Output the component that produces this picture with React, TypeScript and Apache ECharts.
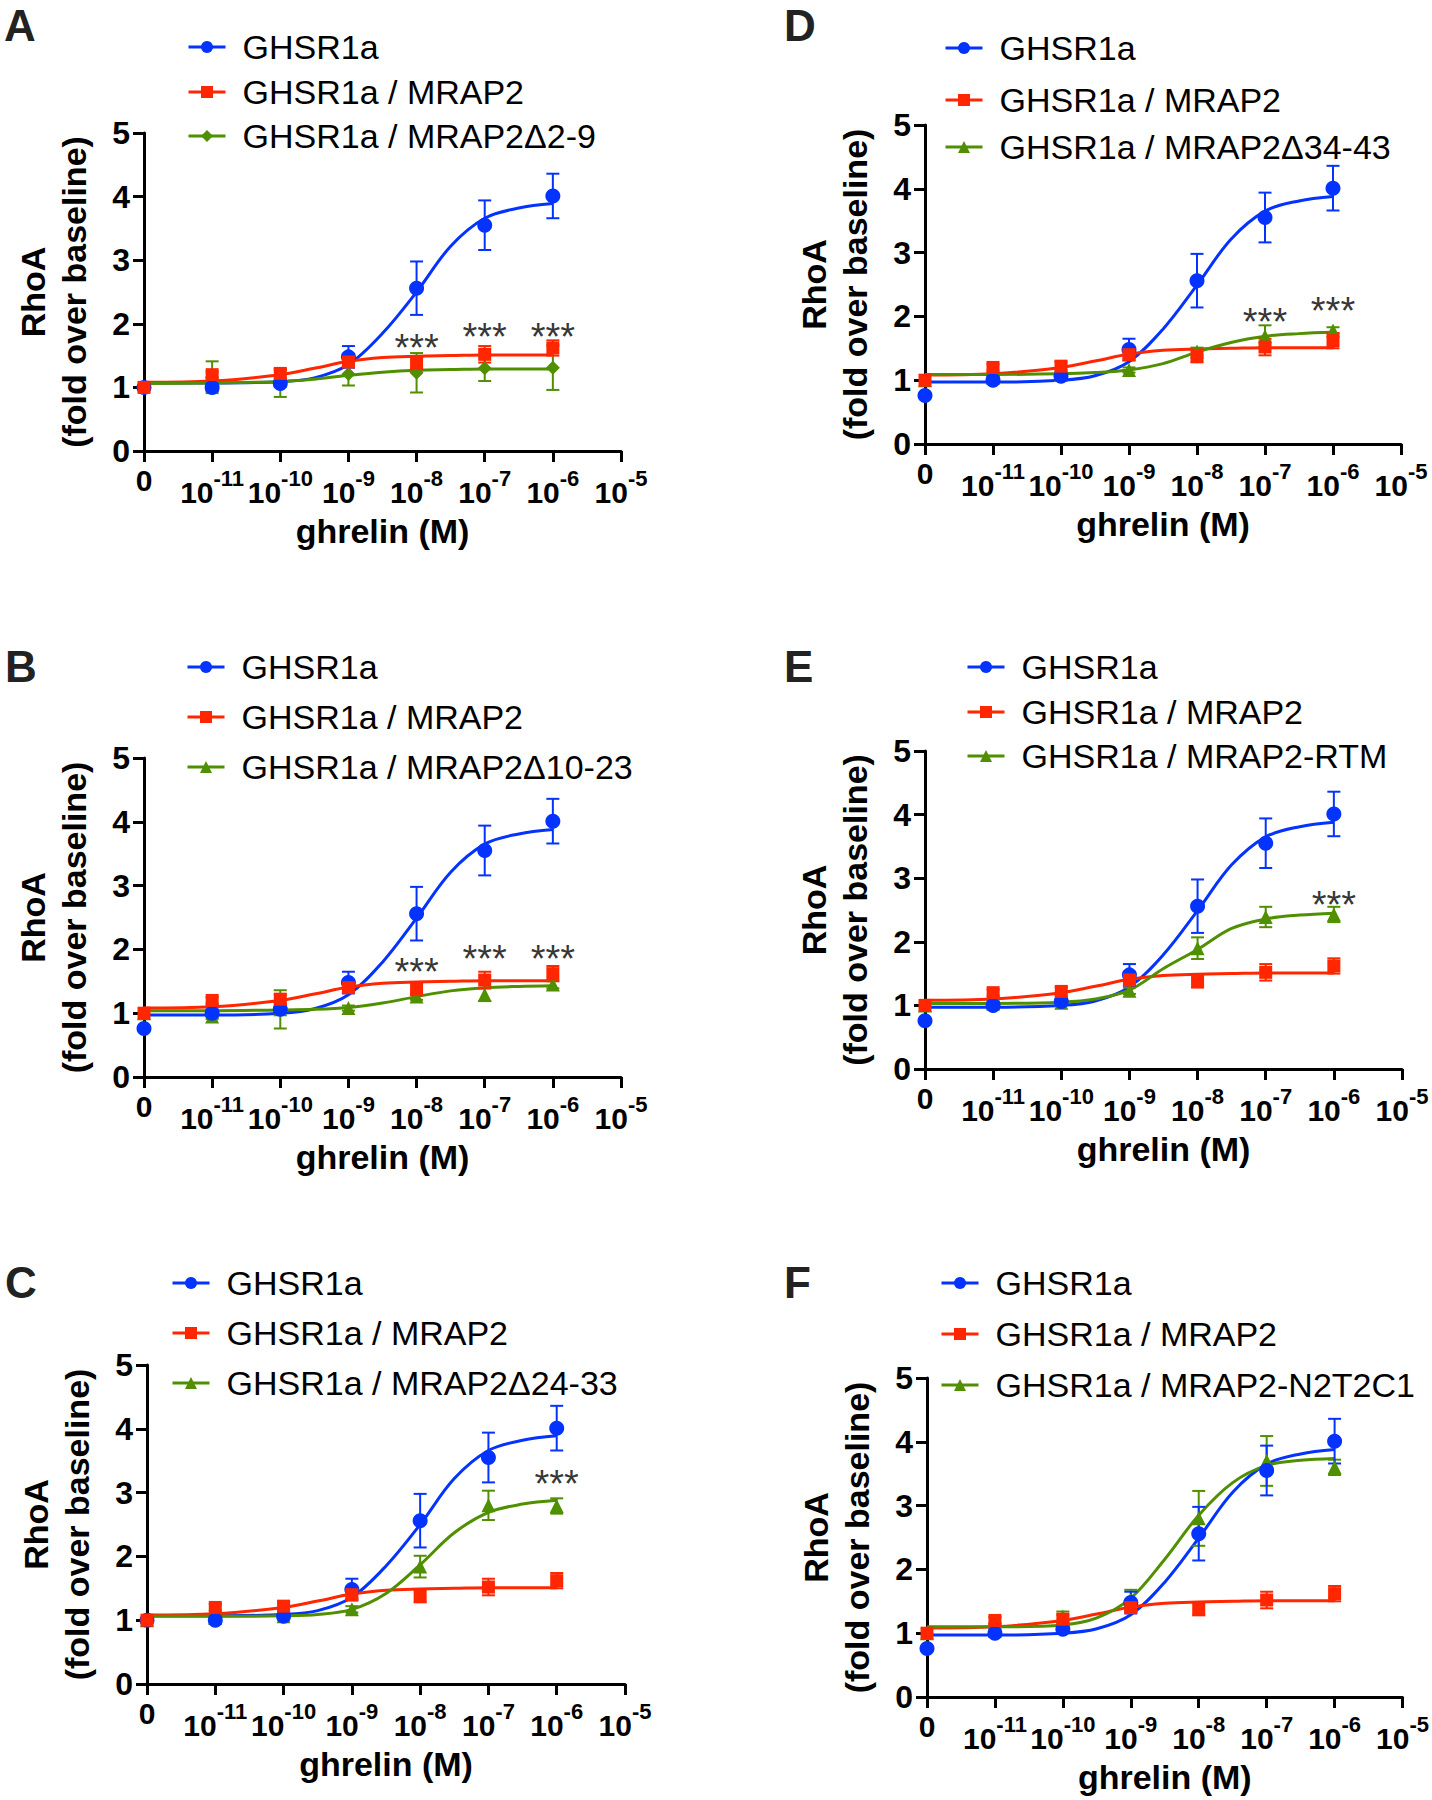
import React, { useEffect, useRef } from 'react';
import * as echarts from 'echarts';

// ---------- DATA ----------
// x positions: 0 = "0", 1 = 10^-11 ... 7 = 10^-5
const X_TICK_EXP = ['', '-11', '-10', '-9', '-8', '-7', '-6', '-5'];
const DOSES = [0, 1, 2, 3, 4, 5, 6];
const CURVE_X = [0, 1, 2, 2.5, 3, 3.5, 4, 4.5, 5, 5.5, 6];

const BLUE_NAME = 'GHSR1a';
const RED_NAME = 'GHSR1a / MRAP2';
const GREEN_NAMES = [
  'GHSR1a / MRAP2Δ2-9',
  'GHSR1a / MRAP2Δ10-23',
  'GHSR1a / MRAP2Δ24-33',
  'GHSR1a / MRAP2Δ34-43',
  'GHSR1a / MRAP2-RTM',
  'GHSR1a / MRAP2-N2T2C1',
];
const GREEN_SYMBOLS = ['diamond', 'triangle', 'triangle', 'triangle', 'triangle', 'triangle'];

// GHSR1a (same measurements in every panel)
const BLUE_PTS_AC = [1.0, 1.0, 1.06, 1.48, 2.56, 3.55, 4.01];
const BLUE_PTS = [0.76, 1.0, 1.06, 1.48, 2.56, 3.55, 4.01];
const BLUE_SEM = [0.03, 0.06, 0.05, 0.17, 0.42, 0.39, 0.35];
const BLUE_FIT_AC = [1.07, 1.07, 1.09, 1.15, 1.36, 1.85, 2.5, 3.22, 3.66, 3.82, 3.89];
const BLUE_FIT = [0.97, 0.97, 1.0, 1.07, 1.29, 1.8, 2.49, 3.21, 3.65, 3.81, 3.88];

// GHSR1a / MRAP2
const RED_PTS = [1.0, 1.2, 1.22, 1.4, 1.38, 1.52, 1.62];
const RED_SEM = [0, 0.05, 0.07, 0.06, 0.1, 0.13, 0.12];
const RED_FIT = [1.08, 1.1, 1.2, 1.3, 1.41, 1.47, 1.49, 1.5, 1.51, 1.51, 1.51];

// mutants
const GREEN_PTS_A = [1.0, 1.16, 1.06, 1.21, 1.23, 1.3, 1.31];
const GREEN_SEM_A = [0, 0.25, 0.21, 0.18, 0.31, 0.2, 0.35];
const GREEN_FIT_A = [1.06, 1.07, 1.09, 1.13, 1.19, 1.24, 1.27, 1.28, 1.29, 1.29, 1.29];

const GREEN_PTS_B = [1.0, 0.95, 1.06, 1.08, 1.26, 1.29, 1.45];
const GREEN_SEM_B = [0, 0.04, 0.3, 0.04, 0.05, 0.1, 0.06];
const GREEN_FIT_B = [1.04, 1.04, 1.05, 1.06, 1.09, 1.16, 1.26, 1.35, 1.4, 1.42, 1.43];

const GREEN_PTS_C = [1.0, 1.04, 1.06, 1.17, 1.84, 2.8, 2.79];
const GREEN_SEM_C = [0, 0.03, 0.03, 0.05, 0.17, 0.23, 0.12];
const GREEN_FIT_C = [1.06, 1.06, 1.07, 1.09, 1.17, 1.42, 1.87, 2.37, 2.69, 2.82, 2.88];

const GREEN_PTS_D = [1.0, 1.08, 1.08, 1.16, 1.45, 1.69, 1.78];
const GREEN_SEM_D = [0, 0.03, 0.04, 0.04, 0.06, 0.17, 0.05];
const GREEN_FIT_D = [1.09, 1.09, 1.1, 1.12, 1.16, 1.26, 1.44, 1.59, 1.69, 1.73, 1.75];

const GREEN_PTS_E = [1.0, 1.03, 1.04, 1.23, 1.9, 2.39, 2.43];
const GREEN_SEM_E = [0, 0.03, 0.04, 0.05, 0.17, 0.16, 0.12];
const GREEN_FIT_E = [1.03, 1.03, 1.05, 1.1, 1.24, 1.58, 1.88, 2.21, 2.36, 2.42, 2.45];

const GREEN_PTS_F = [1.0, 1.12, 1.26, 1.52, 2.8, 3.7, 3.6];
const GREEN_SEM_F = [0, 0.03, 0.08, 0.16, 0.43, 0.39, 0.12];
const GREEN_FIT_F = [1.1, 1.1, 1.13, 1.24, 1.55, 2.16, 2.85, 3.36, 3.63, 3.71, 3.74];

// significance marks [x, y]
const STARS_A = [[4, 1.76], [5, 1.93], [6, 1.93]];
const STARS_B = [[4, 1.79], [5, 1.99], [6, 1.99]];
const STARS_C = [[6, 3.27]];
const STARS_D = [[5, 2.05], [6, 2.22]];
const STARS_E = [[6, 2.72]];
const STARS_F: number[][] = [];

const PANEL_DATA = [
  { blue: BLUE_PTS_AC, blueFit: BLUE_FIT_AC, green: GREEN_PTS_A, greenSem: GREEN_SEM_A, greenFit: GREEN_FIT_A, stars: STARS_A },
  { blue: BLUE_PTS, blueFit: BLUE_FIT, green: GREEN_PTS_B, greenSem: GREEN_SEM_B, greenFit: GREEN_FIT_B, stars: STARS_B },
  { blue: BLUE_PTS_AC, blueFit: BLUE_FIT_AC, green: GREEN_PTS_C, greenSem: GREEN_SEM_C, greenFit: GREEN_FIT_C, stars: STARS_C },
  { blue: BLUE_PTS, blueFit: BLUE_FIT, green: GREEN_PTS_D, greenSem: GREEN_SEM_D, greenFit: GREEN_FIT_D, stars: STARS_D },
  { blue: BLUE_PTS, blueFit: BLUE_FIT, green: GREEN_PTS_E, greenSem: GREEN_SEM_E, greenFit: GREEN_FIT_E, stars: STARS_E },
  { blue: BLUE_PTS, blueFit: BLUE_FIT, green: GREEN_PTS_F, greenSem: GREEN_SEM_F, greenFit: GREEN_FIT_F, stars: STARS_F },
];

// ---------- LAYOUT ----------
const LAYOUT = [
  { letter: 'A', grid: { left: 144, top: 133, width: 477, height: 318 }, letterPos: [4, 25], legendLeft: 187, legendRows: [47, 92, 136] },
  { letter: 'B', grid: { left: 144, top: 758, width: 477, height: 319 }, letterPos: [5, 666], legendLeft: 186, legendRows: [667, 717, 767] },
  { letter: 'C', grid: { left: 147, top: 1365, width: 478, height: 319 }, letterPos: [5, 1282], legendLeft: 171, legendRows: [1283, 1333, 1383] },
  { letter: 'D', grid: { left: 925, top: 125, width: 476, height: 319 }, letterPos: [784, 25], legendLeft: 944, legendRows: [48, 100, 147] },
  { letter: 'E', grid: { left: 925, top: 751, width: 477, height: 318 }, letterPos: [784, 666], legendLeft: 966, legendRows: [667, 712, 756] },
  { letter: 'F', grid: { left: 927, top: 1378, width: 477, height: 319 }, letterPos: [784, 1282], legendLeft: 940, legendRows: [1283, 1334, 1385] },
];

const FONT = '"Liberation Sans", Arial, Helvetica, sans-serif';
const BLUE = '#0433ff';
const RED = '#ff2600';
const GREEN = '#4f8f00';

function errData(pts: (number | null)[], sem: number[]) {
  return DOSES.map((d, i) => (pts[i] == null || !sem[i] ? null : [d, (pts[i] as number) - sem[i], (pts[i] as number) + sem[i]])).filter(Boolean);
}

function errSeries(idx: number, color: string, pts: number[], sem: number[], z: number) {
  return {
    type: 'custom',
    xAxisIndex: idx,
    yAxisIndex: idx,
    silent: true,
    z,
    encode: { x: 0, y: [1, 2] },
    data: errData(pts, sem),
    renderItem: (params: any, api: any) => {
      const x = api.value(0);
      const lo = api.coord([x, api.value(1)]);
      const hi = api.coord([x, api.value(2)]);
      const w = 6.5;
      const style = { stroke: color, lineWidth: 2, fill: null };
      return {
        type: 'group',
        children: [
          { type: 'line', shape: { x1: lo[0], y1: lo[1], x2: hi[0], y2: hi[1] }, style },
          { type: 'line', shape: { x1: hi[0] - w, y1: hi[1], x2: hi[0] + w, y2: hi[1] }, style },
          { type: 'line', shape: { x1: lo[0] - w, y1: lo[1], x2: lo[0] + w, y2: lo[1] }, style },
        ],
      };
    },
  };
}

function curveSeries(idx: number, name: string, color: string, symbol: string, fit: number[], z: number) {
  return {
    type: 'line',
    name,
    xAxisIndex: idx,
    yAxisIndex: idx,
    data: CURVE_X.map((x, i) => [x, fit[i]]),
    smooth: 0.35,
    showSymbol: false,
    symbol,
    symbolSize: 14,
    silent: true,
    z,
    itemStyle: { color },
    lineStyle: { color, width: 3 },
  };
}

function pointSeries(idx: number, color: string, symbol: string, size: number, pts: number[], z: number) {
  return {
    type: 'scatter',
    xAxisIndex: idx,
    yAxisIndex: idx,
    data: DOSES.map((d, i) => [d, pts[i]]),
    symbol,
    symbolSize: size,
    silent: true,
    z,
    itemStyle: { color, opacity: 1 },
  };
}

function buildOption() {
  const grid: any[] = [];
  const xAxis: any[] = [];
  const yAxis: any[] = [];
  const legend: any[] = [];
  const series: any[] = [];
  const graphic: any[] = [];

  LAYOUT.forEach((l, i) => {
    const d = PANEL_DATA[i];
    grid.push({ ...l.grid, containLabel: false });
    xAxis.push({
      gridIndex: i,
      type: 'value',
      min: 0,
      max: 7,
      interval: 1,
      name: 'ghrelin (M)',
      nameLocation: 'middle',
      nameGap: 63,
      nameTextStyle: { fontSize: 34, fontWeight: 'bold', color: '#000', fontFamily: FONT },
      axisLine: { show: true, onZero: false, lineStyle: { color: '#000', width: 3 } },
      axisTick: { show: true, length: 11, lineStyle: { color: '#000', width: 3 } },
      splitLine: { show: false },
      axisLabel: {
        margin: 16,
        color: '#000',
        formatter: (v: number) => {
          const k = Math.round(v);
          return k === 0 ? '{z|0}' : `{b|10}{s|${X_TICK_EXP[k]}}`;
        },
        rich: {
          z: { fontSize: 30, fontWeight: 'bold', lineHeight: 28, fontFamily: FONT, color: '#000', verticalAlign: 'bottom' },
          b: { fontSize: 30, fontWeight: 'bold', lineHeight: 40, fontFamily: FONT, color: '#000', verticalAlign: 'bottom' },
          s: { fontSize: 22, fontWeight: 'bold', lineHeight: 22, fontFamily: FONT, color: '#000', verticalAlign: 'top' },
        },
      },
    });
    yAxis.push({
      gridIndex: i,
      type: 'value',
      min: 0,
      max: 5,
      interval: 1,
      name: 'RhoA\n(fold over baseline)',
      nameLocation: 'middle',
      nameRotate: 90,
      nameGap: 50,
      nameTextStyle: { fontSize: 34, fontWeight: 'bold', lineHeight: 41, color: '#000', fontFamily: FONT, align: 'center' },
      axisLine: { show: true, onZero: false, lineStyle: { color: '#000', width: 3 } },
      axisTick: { show: true, length: 11, lineStyle: { color: '#000', width: 3 } },
      splitLine: { show: false },
      axisLabel: { margin: 14, fontSize: 32, fontWeight: 'bold', color: '#000', fontFamily: FONT },
    });

    const names = [BLUE_NAME, RED_NAME, GREEN_NAMES[i]];
    names.forEach((n, r) => {
      legend.push({
        orient: 'vertical',
        left: l.legendLeft,
        top: l.legendRows[r] - 20,
        padding: 0,
        data: [n],
        selectedMode: false,
        itemWidth: 37,
        itemHeight: 15,
        lineStyle: { width: 3 },
        textStyle: { fontSize: 34, color: '#000', fontFamily: FONT, lineHeight: 40, padding: [0, 0, 0, 12] },
      });
    });

    // curves
    series.push(curveSeries(i, BLUE_NAME, BLUE, 'circle', d.blueFit, 3));
    series.push(curveSeries(i, RED_NAME, RED, 'rect', RED_FIT, 3));
    series.push(curveSeries(i, GREEN_NAMES[i], GREEN, GREEN_SYMBOLS[i], d.greenFit, 3));
    // error bars
    series.push(errSeries(i, GREEN, d.green, d.greenSem, 4));
    series.push(errSeries(i, BLUE, d.blue, BLUE_SEM, 5));
    series.push(errSeries(i, RED, RED_PTS, RED_SEM, 6));
    // points
    series.push(pointSeries(i, GREEN, GREEN_SYMBOLS[i], 14, d.green, 7));
    series.push(pointSeries(i, BLUE, 'circle', 15, d.blue, 8));
    series.push(pointSeries(i, RED, 'rect', 13, RED_PTS, 9));
    // stars
    if (d.stars.length) {
      series.push({
        type: 'scatter',
        xAxisIndex: i,
        yAxisIndex: i,
        data: d.stars,
        symbol: 'circle',
        symbolSize: 1,
        itemStyle: { color: 'rgba(0,0,0,0)' },
        silent: true,
        z: 10,
        label: {
          show: true,
          position: 'inside',
          formatter: '***',
          fontSize: 38,
          color: '#000',
          fontFamily: FONT,
          offset: [0, 9],
        },
      });
    }

    graphic.push({
      type: 'text',
      x: l.letterPos[0],
      y: l.letterPos[1],
      style: {
        text: l.letter,
        fontSize: 44,
        fontWeight: 'bold',
        fontFamily: FONT,
        fill: '#222',
        align: 'left',
        verticalAlign: 'middle',
      },
    });
  });

  return { animation: false, backgroundColor: '#ffffff', grid, xAxis, yAxis, legend, series, graphic };
}

export default function App() {
  const ref = useRef<HTMLDivElement>(null);
  useEffect(() => {
    document.body.style.margin = '0';
    if (!ref.current) return;
    const chart = echarts.init(ref.current, null, { renderer: 'svg' });
    chart.setOption(buildOption() as any);
    return () => chart.dispose();
  }, []);
  return <div ref={ref} style={{ width: 1432, height: 1800, background: '#fff' }} />;
}
